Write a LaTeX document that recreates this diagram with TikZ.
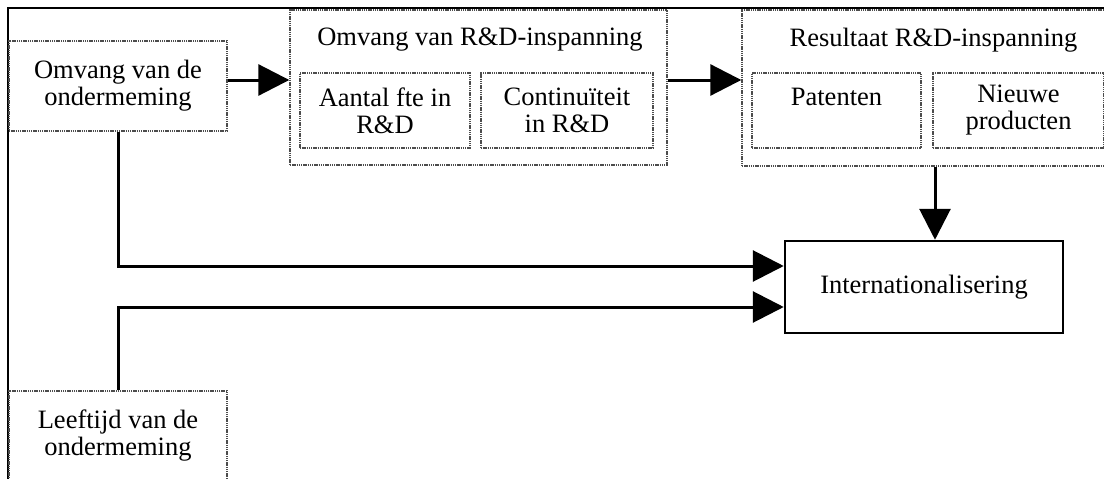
\documentclass[tikz,border=0pt]{standalone}
\usepackage{fontspec}
\setmainfont{Liberation Serif}
\usetikzlibrary{arrows.meta,calc}
\begin{document}
\begin{tikzpicture}[x=1pt,y=-1pt,
  box/.style={draw=black!70, line width=1.4pt, dash pattern=on 1.4pt off 0.8pt, rectangle, inner sep=0pt, align=center, font=\fontsize{26.5}{27}\selectfont},
  title/.style={inner sep=0pt, font=\fontsize{26.5}{27}\selectfont},
  mainbox/.style={draw=black, line width=2.5pt, solid, rectangle, inner sep=0pt, align=center, font=\fontsize{26.5}{27}\selectfont},
  conn/.style={line width=3pt, -{Triangle[length=31pt,width=31pt]}},
  link/.style={line width=3pt}]
\useasboundingbox (0,0) rectangle (1104,479);
\clip (0,0) rectangle (1104,479);
% frame (top and left edges)
\draw[line width=2pt] (8,490) -- (8,8) -- (1115,8);
% boxes
\node[box, minimum width=218pt, minimum height=90pt] (size) at (118,86) {Omvang van de\\ondermeming};
\node[box, minimum width=377pt, minimum height=155pt] (rdin) at (478.5,87.5) {};
\node[title] (rdinT) at (480,40) {Omvang van R\&D-inspanning};
\node[box, minimum width=170pt, minimum height=75pt] (fte) at (385,110.5) {Aantal fte in\\R\&D};
\node[box, minimum width=172pt, minimum height=75pt] (cont) at (567,110.5) {Continuïteit\\in R\&D};
\node[box, minimum width=378pt, minimum height=156pt] (rdout) at (931,88) {};
\node[title] (rdoutT) at (933.5,40) {Resultaat R\&D-inspanning};
\node[box, minimum width=169pt, minimum height=75pt] (pat) at (836.5,110.5) {Patenten\\\mbox{}};
\node[box, minimum width=171pt, minimum height=75pt] (prod) at (1018.5,110.5) {Nieuwe\\producten};
\node[mainbox, minimum width=278pt, minimum height=92pt] (intl) at (924,287) {Internationalisering};
\node[box, minimum width=218pt, minimum height=90pt] (age) at (118,436) {Leeftijd van de\\ondermeming};
% connectors
\draw[conn] ([yshift=6pt]size.east) -- ([yshift=6pt]size.east -| rdin.west);
\draw[conn] ([yshift=7.5pt]rdin.east) -- ([yshift=7.5pt]rdin.east -| rdout.west);
\coordinate (intlN) at ([xshift=11pt]intl.north);
\draw[conn] (rdout.south -| intlN) -- (intlN);
\coordinate (intlW1) at ([yshift=21pt]intl.west);
\coordinate (intlW2) at ([yshift=-20pt]intl.west);
\draw[link] (size.south) |- ($(intlW1)+(-30,0)$);
\draw[conn] ($(intlW1)+(-31,0)$) -- (intlW1);
\draw[link] (age.north) |- ($(intlW2)+(-30,0)$);
\draw[conn] ($(intlW2)+(-31,0)$) -- (intlW2);
\end{tikzpicture}
\end{document}
